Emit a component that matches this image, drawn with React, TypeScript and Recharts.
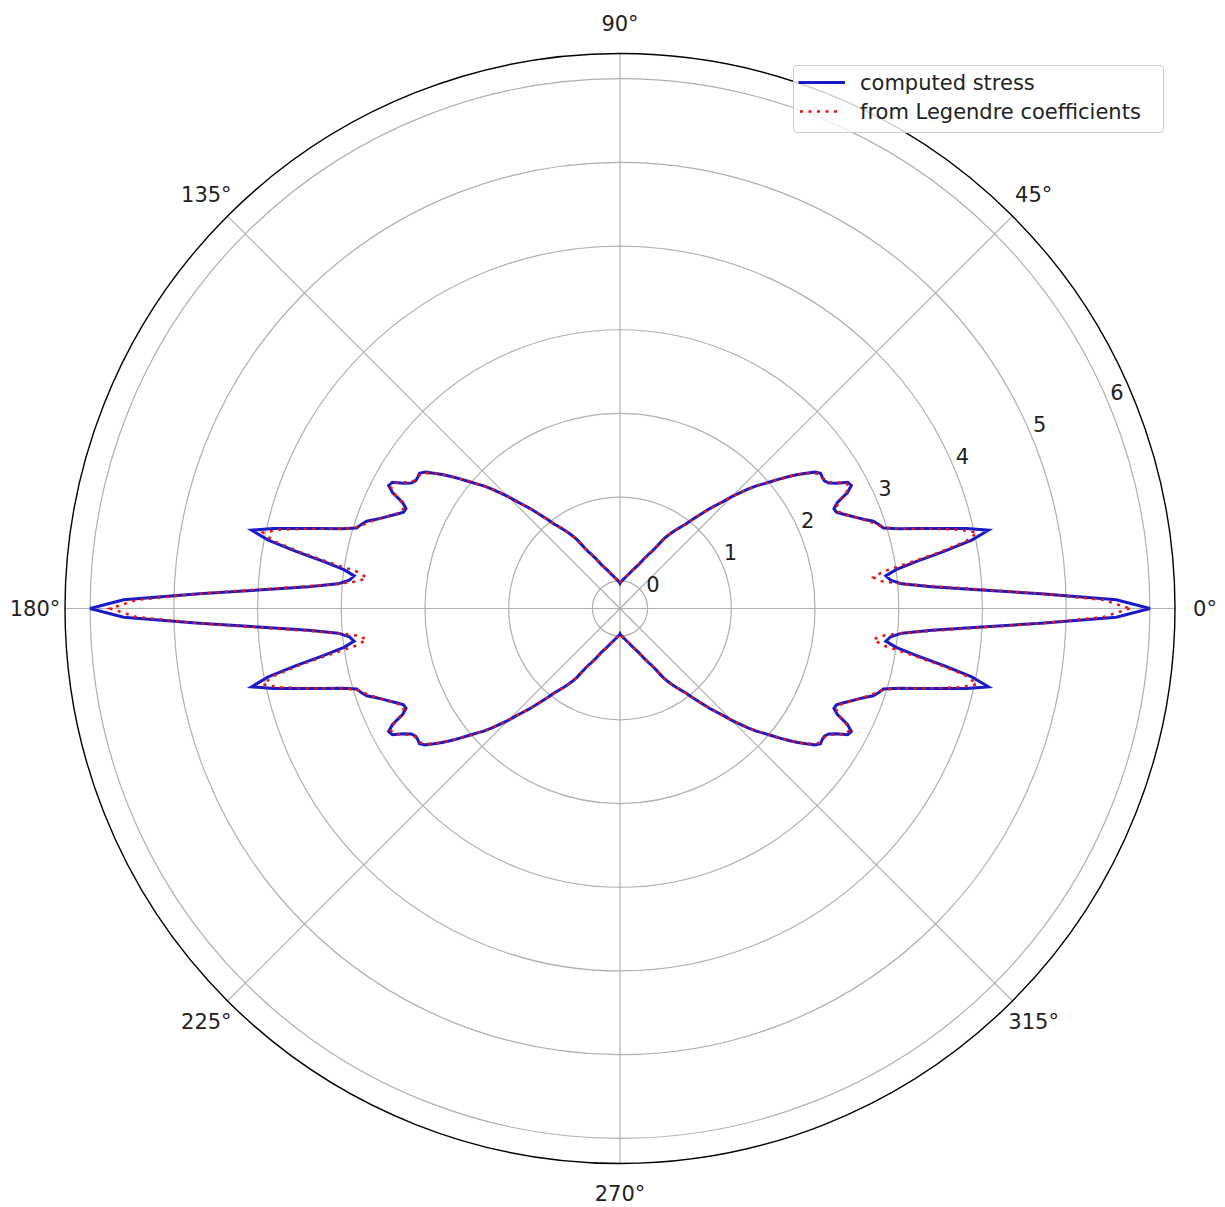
import { RadarChart, Radar, PolarGrid, PolarAngleAxis, PolarRadiusAxis } from "recharts";

// angle grid / labels (degrees, counter-clockwise from the right)
const angleTicks = [0, 45, 90, 135, 180, 225, 270, 315];
const radiusTicks = [0, 1, 2, 3, 4, 5, 6];
const radiusDomain = [-0.33, 6.3];

// values read for 0..90 deg in 1 deg steps; the plot is mirror symmetric on both axes
const stressQuadrant = [
    6.0, 5.6, 4.7, 3.95, 3.4, 3.05, 2.92, 2.87, 3.0, 3.25,
    3.6, 3.95, 4.17, 3.92, 3.62, 3.36, 3.13, 2.96, 2.92, 2.87,
    2.78, 2.7, 2.63, 2.56, 2.5, 2.49, 2.56, 2.72, 2.8, 2.78,
    2.66, 2.58, 2.55, 2.55, 2.56, 2.51, 2.42, 2.33, 2.23, 2.13,
    2.03, 1.94, 1.86, 1.76, 1.66, 1.56, 1.45, 1.36, 1.28, 1.19,
    1.11, 1.03, 0.95, 0.9, 0.85, 0.8, 0.75, 0.7, 0.64, 0.56,
    0.49, 0.44, 0.41, 0.37, 0.34, 0.3, 0.27, 0.24, 0.22, 0.2,
    0.18, 0.165, 0.15, 0.13, 0.12, 0.1, 0.09, 0.08, 0.07, 0.06,
    0.05, 0.04, 0.03, 0.025, 0.015, 0.01, 0.0, -0.005, -0.01, -0.02,
    -0.03,
];

const legendreQuadrant = [
    5.76, 5.45, 4.72, 4.0, 3.45, 3.05, 2.8, 2.72, 2.85, 3.18,
    3.55, 3.88, 4.03, 3.85, 3.6, 3.35, 3.13, 2.98, 2.9, 2.84,
    2.77, 2.7, 2.63, 2.57, 2.52, 2.52, 2.58, 2.7, 2.77, 2.76,
    2.68, 2.6, 2.56, 2.55, 2.54, 2.49, 2.42, 2.33, 2.23, 2.13,
    2.04, 1.94, 1.85, 1.76, 1.66, 1.56, 1.46, 1.36, 1.27, 1.19,
    1.11, 1.03, 0.96, 0.9, 0.85, 0.8, 0.75, 0.69, 0.63, 0.56,
    0.49, 0.45, 0.41, 0.37, 0.33, 0.3, 0.27, 0.24, 0.22, 0.2,
    0.18, 0.16, 0.15, 0.13, 0.12, 0.1, 0.09, 0.08, 0.07, 0.06,
    0.05, 0.04, 0.03, 0.02, 0.015, 0.01, 0.0, -0.005, -0.01, -0.02,
    -0.03,
];

// categories in the order the (clockwise) radar walks them: 0, 359, 358, ... 1
const angles = Array.from({ length: 360 }, (_, i) => (360 - i) % 360);

// fold an angle back into the first quadrant
const quadrantIndex = (a: number) => (a <= 90 ? a : a <= 180 ? 180 - a : a <= 270 ? a - 180 : 360 - a);

const chartData = angles.map(a => ({
    angle: a,
    stress: stressQuadrant[quadrantIndex(a)],
    legendre: legendreQuadrant[quadrantIndex(a)],
}));

const FONT = "DejaVu Sans, sans-serif";
const BLUE = "#1a1ac8";
const RED = "#ee1111";

const renderAngleTick = (props: any) => {
    const { x, y, payload } = props;
    if (payload.value % 45 !== 0) return <g />;
    return (
        <text x={x} y={y} textAnchor="middle" dominantBaseline="central" fontFamily={FONT} fontSize={21} fill="#222">
            {`${payload.value}°`}
        </text>
    );
};

const renderRadiusTick = (props: any) => {
    const { x, y, payload } = props;
    return (
        <text x={x + 7.5} y={y - 12.8} textAnchor="middle" dominantBaseline="central" fontFamily={FONT} fontSize={21} fill="#222">
            {payload.value}
        </text>
    );
};

function ChartLegend() {
    return (
        <div
            style={{
                position: "absolute",
                left: 793,
                top: 65,
                width: 369,
                height: 66,
                border: "1px solid #cccccc",
                borderRadius: 4,
                background: "rgba(255,255,255,0.8)",
                fontFamily: FONT,
                fontSize: 21,
                color: "#222",
            }}
        >
            <svg width={60} height={66} style={{ position: "absolute", left: 0, top: 0 }}>
                <line x1={4.5} y1={16.5} x2={51} y2={16.5} stroke={BLUE} strokeWidth={3} />
                <line x1={6} y1={45.5} x2={46} y2={45.5} stroke={RED} strokeWidth={2.5} strokeDasharray="3 5.5" />
            </svg>
            <div style={{ position: "absolute", left: 66, top: 16.5, transform: "translateY(-50%)", whiteSpace: "nowrap" }}>
                computed stress
            </div>
            <div style={{ position: "absolute", left: 66, top: 45.5, transform: "translateY(-50%)", whiteSpace: "nowrap" }}>
                from Legendre coefficients
            </div>
        </div>
    );
}

export default function App() {
    return (
        <div style={{ position: "absolute", left: 0, top: 0, width: 1225, height: 1207, background: "#fff" }}>
            <RadarChart
                width={1225}
                height={1207}
                data={chartData}
                cx={620}
                cy={608.5}
                innerRadius={0}
                outerRadius={555}
                startAngle={360}
                endAngle={0}
                margin={{ top: 0, right: 0, bottom: 0, left: 0 }}
            >
                <PolarGrid gridType="circle" polarAngles={angleTicks} stroke="#b0b0b0" strokeWidth={1.2} />
                <PolarAngleAxis
                    dataKey="angle"
                    tick={renderAngleTick}
                    tickLine={false}
                    tickSize={30}
                    axisLineType="circle"
                    axisLine={{ stroke: "#000", strokeWidth: 1.4 }}
                />
                <PolarRadiusAxis
                    type="number"
                    domain={radiusDomain}
                    ticks={radiusTicks}
                    angle={22.5}
                    axisLine={false}
                    tick={renderRadiusTick}
                    allowDataOverflow
                />
                <Radar
                    name="computed stress"
                    dataKey="stress"
                    stroke={BLUE}
                    strokeWidth={3}
                    fill="none"
                    fillOpacity={0}
                    dot={false}
                    isAnimationActive={false}
                />
                <Radar
                    name="from Legendre coefficients"
                    dataKey="legendre"
                    stroke={RED}
                    strokeWidth={2.5}
                    strokeDasharray="3 5.5"
                    fill="none"
                    fillOpacity={0}
                    dot={false}
                    isAnimationActive={false}
                />
            </RadarChart>
            <ChartLegend />
        </div>
    );
}
